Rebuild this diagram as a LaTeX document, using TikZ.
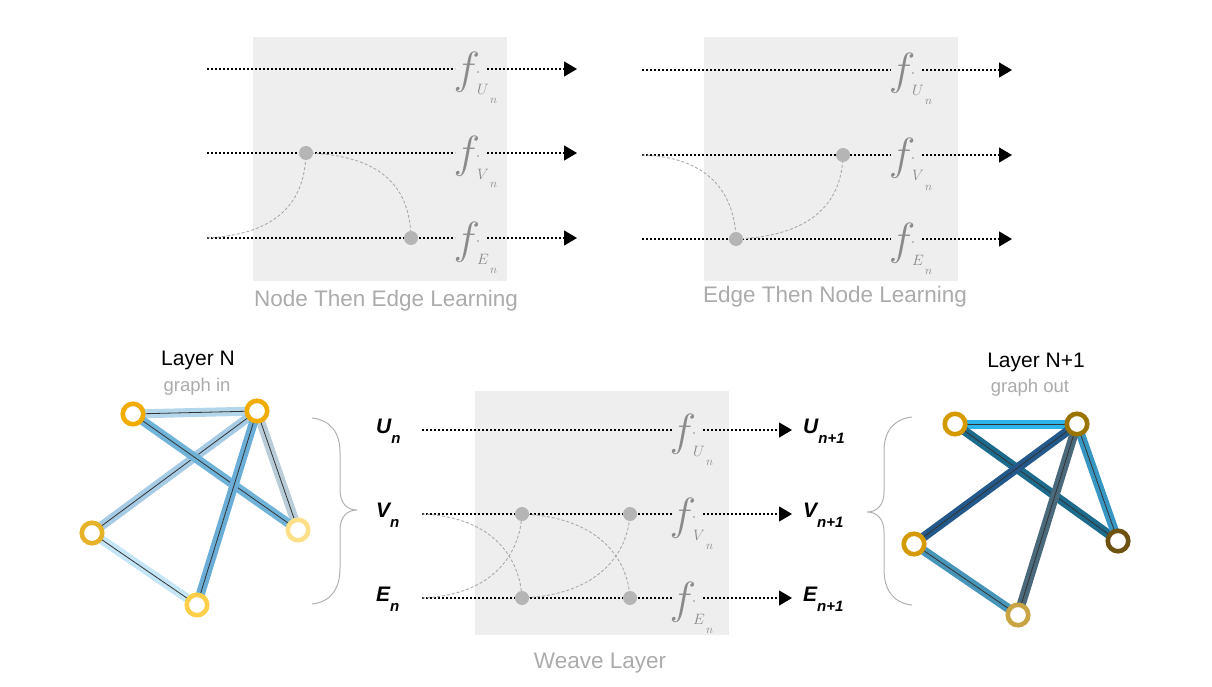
\RequirePackage{fix-cm}
\documentclass[tikz,border=0pt]{standalone}
\usepackage{fontspec}
\setmainfont{Liberation Sans}
\usetikzlibrary{arrows.meta}
\definecolor{boxgray}{HTML}{EEEEEE}
\definecolor{dotgray}{HTML}{B5B5B5}
\definecolor{curvegray}{HTML}{AAAAAA}
\definecolor{fgray}{HTML}{8A8A8A}
\definecolor{capgray}{HTML}{ABABAB}
\definecolor{bracegray}{HTML}{B0B0B0}
% left graph colours
\definecolor{le12}{HTML}{B3D6EA}
\definecolor{le23}{HTML}{A6CBE5}
\definecolor{le24}{HTML}{B8CDD8}
\definecolor{le35}{HTML}{C5E6F7}
\definecolor{le14}{HTML}{6FB3D8}
\definecolor{le25}{HTML}{6AAED7}
\definecolor{ln1}{HTML}{F2AC00}
\definecolor{ln2}{HTML}{F0AC00}
\definecolor{ln3}{HTML}{E6B22A}
\definecolor{ln4}{HTML}{FFE08A}
\definecolor{ln5}{HTML}{FFCF4A}
% right graph colours
\definecolor{re12}{HTML}{2CB3E8}
\definecolor{re14}{HTML}{1D6B8C}
\definecolor{re24}{HTML}{3797C2}
\definecolor{re35}{HTML}{4796B9}
\definecolor{re23}{HTML}{23598A}
\definecolor{re25}{HTML}{4A6A7B}
\definecolor{rn1}{HTML}{D49A00}
\definecolor{rn2}{HTML}{9A7400}
\definecolor{rn3}{HTML}{D49A00}
\definecolor{rn4}{HTML}{6E5212}
\definecolor{rn5}{HTML}{C9A444}
\tikzset{
  flow/.style={draw=black, line width=1.3pt, dash pattern=on 2.4pt off 1.6pt},
  flowarrow/.style={flow, -{Triangle[length=13pt,width=15pt]}},
  weave/.style={draw=curvegray, line width=0.9pt, dash pattern=on 3pt off 2pt},
  dotnode/.style={circle, fill=dotgray, inner sep=0pt, minimum size=14pt},
  vert/.style={circle, draw=#1, line width=4.6pt, fill=white, inner sep=0pt, minimum size=20.5pt},
  gedge/.style={preaction={draw=#1, line width=9pt}, draw=black!80, line width=0.8pt},
  caption/.style={text=capgray, font=\fontsize{22.5}{22.5}\selectfont},
  boxfill/.style={fill=boxgray},
  brace/.style={draw=bracegray, line width=1pt},
  varlab/.style={anchor=base west, inner sep=0pt, font=\fontsize{21}{21}\selectfont\bfseries\itshape},
}
\newcommand\flab[4]{%
  \node[anchor=base, text=fgray, inner sep=0pt, font=\fontsize{45}{45}\selectfont] (#1) at (#2,#3+15) {$f$};
  \node[anchor=base west, text=fgray, inner sep=0pt, font=\fontsize{15}{15}\selectfont] (#1s) at (#2+10,#3+26) {$#4$};
  \node[anchor=base west, text=fgray, inner sep=0pt, font=\fontsize{12}{12}\selectfont] (#1n) at (#2+23,#3+35) {$n$};
  \fill[fgray] (#2+11,#3+3) circle (0.9);
}
\newcommand\sub[1]{\raisebox{-10pt}{\fontsize{15}{15}\selectfont #1}}
\begin{document}
\begin{tikzpicture}[x=1pt,y=-1pt]
\useasboundingbox (0,0) rectangle (1212,687);

% ---------------- boxes
\fill[boxfill] (253,37) rectangle (507,281);
\fill[boxfill] (704,37) rectangle (958,281);
\fill[boxfill] (475,391) rectangle (729,635);

% ---------------- f labels
\flab{fa1}{467}{69}{U}
\flab{fa2}{467}{153}{V}
\flab{fa3}{467}{238}{E}
\flab{fb1}{902}{70}{U}
\flab{fb2}{902}{155}{V}
\flab{fb3}{902}{239}{E}
\flab{fw1}{683}{430}{U}
\flab{fw2}{683}{514}{V}
\flab{fw3}{683}{598}{E}

% ---------------- coordinates
% top-left
\coordinate (sa1) at (207,69);  \coordinate (ga1) at (455,69);  \coordinate (ra1) at (487,69);  \coordinate (ea1) at (577,69);
\coordinate (sa2) at (207,153); \coordinate (ga2) at (455,153); \coordinate (ra2) at (487,153); \coordinate (ea2) at (577,153);
\coordinate (sa3) at (207,238); \coordinate (ga3) at (455,238); \coordinate (ra3) at (487,238); \coordinate (ea3) at (577,238);
\coordinate (pa1) at (306,153); \coordinate (pa2) at (411,238);
% top-right
\coordinate (sb1) at (642,70);  \coordinate (gb1) at (891,70);  \coordinate (rb1) at (922,70);  \coordinate (eb1) at (1012,70);
\coordinate (sb2) at (642,155); \coordinate (gb2) at (891,155); \coordinate (rb2) at (922,155); \coordinate (eb2) at (1012,155);
\coordinate (sb3) at (642,239); \coordinate (gb3) at (891,239); \coordinate (rb3) at (922,239); \coordinate (eb3) at (1012,239);
\coordinate (pb1) at (843,155); \coordinate (pb2) at (736,239);
% bottom
\coordinate (sw1) at (422,430); \coordinate (gw1) at (672,430); \coordinate (rw1) at (703,430); \coordinate (ew1) at (792,430);
\coordinate (sw2) at (422,514); \coordinate (gw2) at (672,514); \coordinate (rw2) at (703,514); \coordinate (ew2) at (792,514);
\coordinate (sw3) at (422,598); \coordinate (gw3) at (672,598); \coordinate (rw3) at (703,598); \coordinate (ew3) at (792,598);
\coordinate (pw1) at (522,514); \coordinate (pw2) at (630,514);
\coordinate (pw3) at (522,598); \coordinate (pw4) at (630,598);

% ---------------- flow lines
\foreach \p in {a,b,w}{
  \foreach \i in {1,2,3}{
    \draw[flow] (s\p\i) -- (g\p\i);
    \draw[flowarrow] (r\p\i) -- (e\p\i);
  }
}

% ---------------- weave curves
\draw[weave] (sa3) .. controls (285,234) and (305,195) .. (pa1);
\draw[weave] (pa1) .. controls (385,155) and (410,190) .. (pa2);
\draw[weave] (sb2) .. controls (715,157) and (735,200) .. (pb2);
\draw[weave] (pb2) .. controls (815,236) and (842,200) .. (pb1);
\draw[weave] (sw2) .. controls (495,517) and (520,560) .. (pw3);
\draw[weave] (sw3) .. controls (495,595) and (520,552) .. (pw1);
\draw[weave] (pw1) .. controls (600,517) and (628,560) .. (pw4);
\draw[weave] (pw3) .. controls (600,595) and (628,552) .. (pw2);

% ---------------- dots
\foreach \d in {pa1,pa2,pb1,pb2,pw1,pw2,pw3,pw4}{
  \node[dotnode] (d\d) at (\d) {};
}

% ---------------- captions
\node[caption] (capA) at (386,301) {Node Then Edge Learning};
\node[caption] (capB) at (835,297) {Edge Then Node Learning};
\node[caption] (capW) at (600,663) {Weave Layer};

% ---------------- variable labels
\node[varlab] (un)  at (376,433) {U\sub{n}};
\node[varlab] (vn)  at (376,517) {V\sub{n}};
\node[varlab] (en)  at (376,601) {E\sub{n}};
\node[varlab] (un1) at (803,433) {U\sub{n+1}};
\node[varlab] (vn1) at (803,517) {V\sub{n+1}};
\node[varlab] (en1) at (803,601) {E\sub{n+1}};

% ---------------- braces
\draw[brace] (312,418) .. controls (330,420) and (340,432) .. (340,452) -- (340,490)
  .. controls (340,503) and (347,510) .. (357,510)
  .. controls (347,510) and (340,517) .. (340,530) -- (340,568)
  .. controls (340,590) and (330,602) .. (312,604);
\draw[brace] (912,417) .. controls (894,419) and (884,431) .. (884,451) -- (884,492)
  .. controls (884,505) and (877,512) .. (867,512)
  .. controls (877,512) and (884,519) .. (884,532) -- (884,569)
  .. controls (884,591) and (894,603) .. (912,605);

% ---------------- graph titles
\node[font=\fontsize{21}{21}\selectfont] (tN) at (198,360) {Layer N};
\node[text=capgray, font=\fontsize{18.5}{18.5}\selectfont] (tNi) at (197,387) {graph in};
\node[font=\fontsize{21}{21}\selectfont] (tN1) at (1036,362) {Layer N+1};
\node[text=capgray, font=\fontsize{18.5}{18.5}\selectfont] (tN1o) at (1030,388) {graph out};

% ---------------- left graph
\coordinate (g1) at (133,414);
\coordinate (g2) at (257,411);
\coordinate (g3) at (92,533);
\coordinate (g4) at (298,530);
\coordinate (g5) at (197,605);
\draw[gedge=le12] (g1) -- (g2);
\draw[gedge=le23] (g2) -- (g3);
\draw[gedge=le24] (g2) -- (g4);
\draw[gedge=le35] (g3) -- (g5);
\draw[gedge=le14] (g1) -- (g4);
\draw[gedge=le25] (g2) -- (g5);
\node[vert=ln1] (v1) at (g1) {};
\node[vert=ln2] (v2) at (g2) {};
\node[vert=ln3] (v3) at (g3) {};
\node[vert=ln4] (v4) at (g4) {};
\node[vert=ln5] (v5) at (g5) {};

% ---------------- right graph
\coordinate (h1) at (955,424);
\coordinate (h2) at (1077,424);
\coordinate (h3) at (914,544);
\coordinate (h4) at (1118,541);
\coordinate (h5) at (1018,615);
\draw[gedge=re12] (h1) -- (h2);
\draw[gedge=re14] (h1) -- (h4);
\draw[gedge=re24] (h2) -- (h4);
\draw[gedge=re35] (h3) -- (h5);
\draw[gedge=re23] (h2) -- (h3);
\draw[gedge=re25] (h2) -- (h5);
\node[vert=rn1] (w1) at (h1) {};
\node[vert=rn2] (w2) at (h2) {};
\node[vert=rn3] (w3) at (h3) {};
\node[vert=rn4] (w4) at (h4) {};
\node[vert=rn5] (w5) at (h5) {};
\end{tikzpicture}
\end{document}
